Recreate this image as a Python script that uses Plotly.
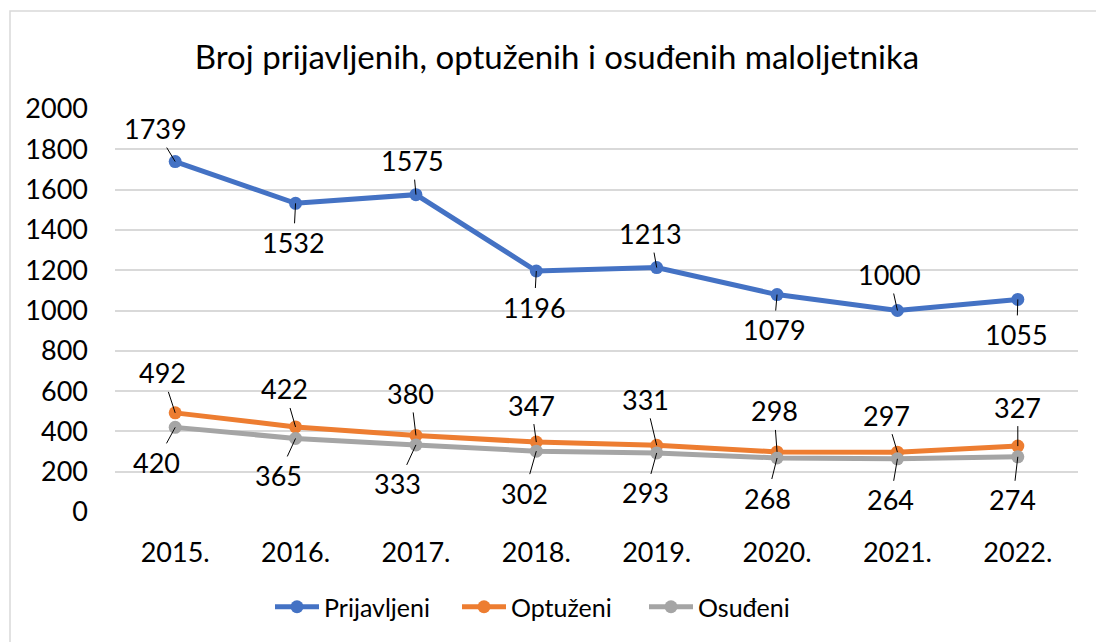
import plotly.graph_objects as go

years = ["2015.", "2016.", "2017.", "2018.", "2019.", "2020.", "2021.", "2022."]
prijavljeni = [1739, 1532, 1575, 1196, 1213, 1079, 1000, 1055]
optuzeni = [492, 422, 380, 347, 331, 298, 297, 327]
osudjeni = [420, 365, 333, 302, 293, 268, 264, 274]
y_ticks = [0, 200, 400, 600, 800, 1000, 1200, 1400, 1600, 1800, 2000]

title_text = "Broj prijavljenih, optuženih i osuđenih maloljetnika"

# label offsets (pixels) of data labels relative to points
off_prij = [(-20, -33), (-2, 39), (-3, -34), (-2, 36), (-6, -34), (-3, 35), (-8, -36), (-1, 35)]
off_opt = [(-13, -40), (-11, -38), (-5, -42), (-5, -37), (-11, -46), (-3, -41), (-11, -37), (0, -39)]
off_osu = [(-19, 35), (-17, 37), (-18, 39), (-12, 42), (-11, 40), (-10, 40), (-7, 41), (-5, 43)]

FONT = "Lato"
W, H = 1096, 642
ML, MR, MT, MB = 115, 18, 109, 130

series = [
    ("Prijavljeni", prijavljeni, "#4472C4", off_prij),
    ("Optuženi", optuzeni, "#ED7D31", off_opt),
    ("Osuđeni", osudjeni, "#A5A5A5", off_osu),
]

xpos = list(range(len(years)))

fig = go.Figure()
annotations = []
for name, vals, color, offs in series:
    fig.add_trace(go.Scatter(
        x=xpos, y=vals, name=name, mode="lines+markers",
        line=dict(color=color, width=5),
        marker=dict(color=color, size=13),
        hoverinfo="skip",
    ))
    for xv, yv, (dx, dy) in zip(xpos, vals, offs):
        annotations.append(dict(
            x=xv, y=yv, xref="x", yref="y", text=str(yv),
            showarrow=True, arrowhead=0, arrowwidth=1, arrowcolor="#000000",
            ax=dx, ay=dy, standoff=0, borderpad=2,
            font=dict(family=FONT, size=27, color="#000000"),
        ))

pw = W - ML - MR
ph = H - MT - MB
fig.update_layout(
    width=W, height=H,
    margin=dict(l=ML, r=MR, t=MT, b=MB),
    paper_bgcolor="#FFFFFF", plot_bgcolor="#FFFFFF",
    font=dict(family=FONT, size=27, color="#000000"),
    title=dict(text=title_text, x=557 / W, xanchor="center", y=1 - 57 / H, yanchor="middle",
               font=dict(family=FONT, size=33, color="#000000")),
    xaxis=dict(range=[-0.5, len(years) - 0.5], tickvals=xpos, ticktext=years,
               showgrid=False, showline=False, zeroline=False,
               ticks="", ticklabelstandoff=22, tickfont=dict(size=27), fixedrange=True),
    yaxis=dict(range=[0, 2000], tickvals=y_ticks, showgrid=True, gridcolor="#D9D9D9", gridwidth=1.5,
               zeroline=False, showline=False, ticks="", ticklabelstandoff=26,
               tickfont=dict(size=27), fixedrange=True),
    legend=dict(orientation="h", x=(270 - ML) / pw, xanchor="left", y=-(607 - (H - MB)) / ph,
                yanchor="middle", font=dict(size=25), itemwidth=44, entrywidth=128,
                bgcolor="rgba(0,0,0,0)"),
    annotations=annotations,
    shapes=[dict(type="rect", xref="paper", yref="paper",
                 x0=(10 - ML) / pw, x1=(W + 20 - ML) / pw,
                 y0=-(H + 20 - (H - MB)) / ph, y1=((H - MB) - 11) / ph,
                 line=dict(color="#D9D9D9", width=1.5), fillcolor="rgba(0,0,0,0)", layer="below")],
    showlegend=True,
)

fig.write_html("out.html", config={"displayModeBar": False},
               post_script="document.body.style.margin='0';")
